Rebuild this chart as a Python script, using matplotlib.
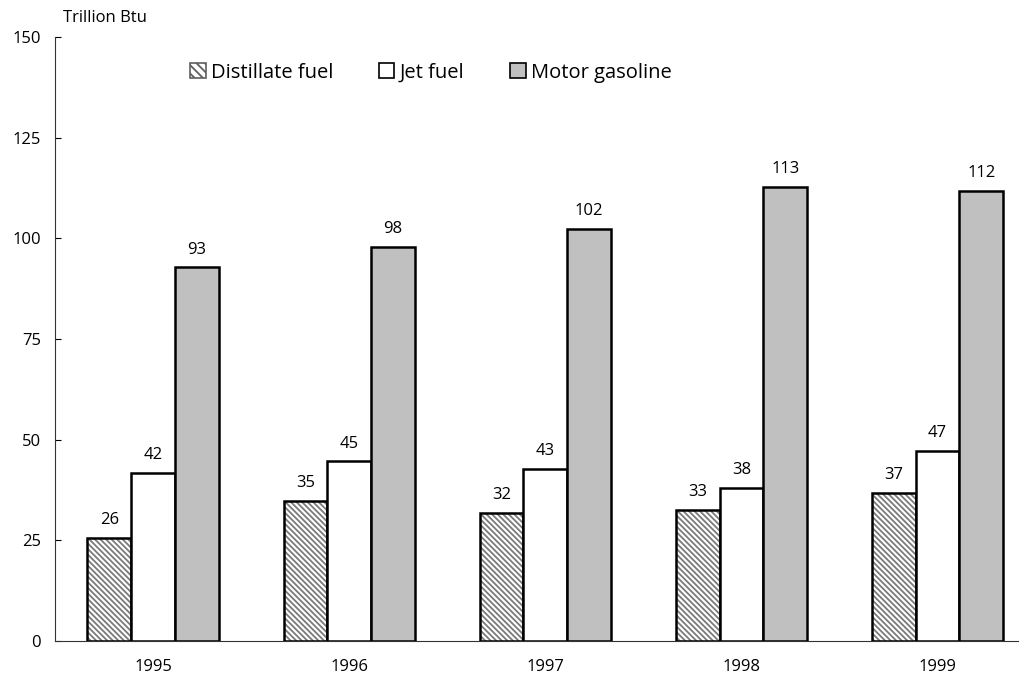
import matplotlib.pyplot as plt
import numpy as np

years = ["1995", "1996", "1997", "1998", "1999"]
distillate = [25.6, 34.8, 31.8, 32.6, 36.8]
jet = [41.8, 44.6, 42.8, 38.0, 47.3]
motor = [92.8, 97.8, 102.3, 112.7, 111.7]

plt.rcParams['font.family'] = ['Open Sans', 'DejaVu Sans']
plt.rcParams['hatch.linewidth'] = 1.3

fig = plt.figure(figsize=(10.26, 6.81), dpi=100)
ax = fig.add_axes([0.0536, 0.0587, 0.9386, 0.887])

x = np.arange(len(years))
w = 0.223

# distillate: hatch in grey, then black outline on top
ax.bar(x - w, distillate, w, color="white", edgecolor="#7a7a7a", hatch="\\\\\\\\\\\\", linewidth=0)
ax.bar(x - w, distillate, w, color="none", edgecolor="black", linewidth=1.8)
ax.bar(x, jet, w, color="white", edgecolor="black", linewidth=1.8)
ax.bar(x + w, motor, w, color="#c0c0c0", edgecolor="black", linewidth=1.8)

for off, vals in [(-w, distillate), (0, jet), (w, motor)]:
    for xi, v in zip(x, vals):
        ax.annotate(f"{v:.0f}", (xi + off, v), xytext=(0, 7), textcoords="offset points",
                    ha="center", va="bottom", fontsize=12)

ax.set_xlim(-0.5, 4.41)
ax.set_ylim(0, 150)
ax.set_yticks([0, 25, 50, 75, 100, 125, 150])
ax.set_xticks(x)
ax.set_xticklabels(years)
ax.tick_params(axis="x", length=0, pad=13, labelsize=12)
ax.tick_params(axis="y", direction="in", length=4, pad=10, labelsize=12)
ax.spines["top"].set_visible(False)
ax.spines["right"].set_visible(False)
ax.spines["left"].set_color("#333333")
ax.spines["bottom"].set_color("#333333")

fig.text(0.061, 0.973, "Trillion Btu", fontsize=12, va="center", ha="left")

h1 = plt.Rectangle((0, 0), 1, 1, facecolor="white", edgecolor="#606060", hatch="\\\\\\\\", linewidth=1.2)
h2 = plt.Rectangle((0, 0), 1, 1, facecolor="white", edgecolor="black", linewidth=1.2)
h3 = plt.Rectangle((0, 0), 1, 1, facecolor="#c0c0c0", edgecolor="black", linewidth=1.2)
fig.legend([h1, h2, h3], ["Distillate fuel", "Jet fuel", "Motor gasoline"],
           loc="center left", bbox_to_anchor=(0.168, 0.893), ncol=3, frameon=False,
           handlelength=0.75, handleheight=0.75, handletextpad=0.25, columnspacing=2.3,
           fontsize=14.5)

fig.savefig("out.png", dpi=100)
